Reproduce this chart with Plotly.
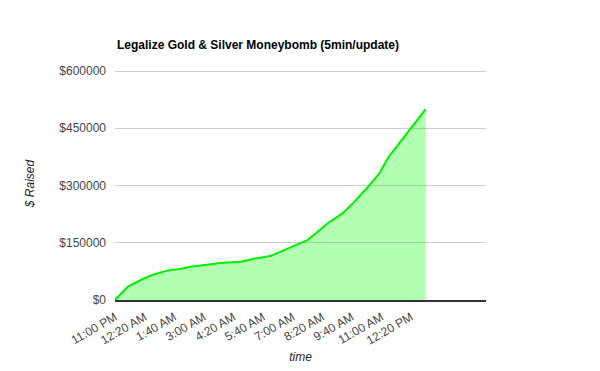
import plotly.graph_objects as go
from datetime import datetime, timedelta

# minutes after 11:00 PM start
minutes = [0, 35, 75, 100, 140, 175, 205, 250, 285, 340, 380, 420, 450, 480,
           520, 545, 575, 615, 645, 680, 715, 740, 780, 805, 840]
raised = [0, 35000, 55000, 65500, 77000, 81000, 87000, 92000, 97000, 100500,
          109000, 115000, 128000, 140000, 157000, 176000, 201000, 227000,
          255000, 292000, 332000, 375000, 426000, 458000, 500000]

tick_labels = ["11:00 PM", "12:20 AM", "1:40 AM", "3:00 AM", "4:20 AM", "5:40 AM",
               "7:00 AM", "8:20 AM", "9:40 AM", "11:00 AM", "12:20 PM"]
tick_minutes = [0, 80, 160, 240, 320, 400, 480, 560, 640, 720, 800]
y_ticks = [0, 150000, 300000, 450000, 600000]
y_labels = ["$0", "$150000", "$300000", "$450000", "$600000"]

start = datetime(2011, 3, 13, 23, 0)
x = [start + timedelta(minutes=m) for m in minutes]
tickvals = [start + timedelta(minutes=m) for m in tick_minutes]

fig = go.Figure()
fig.add_trace(go.Scatter(
    x=x, y=raised, mode="lines",
    line=dict(color="#00ee00", width=2),
    fill="tozeroy", fillcolor="rgba(0,255,0,0.3)",
    hoverinfo="x+y",
))

W, H = 592, 363
fig.update_layout(
    width=W, height=H,
    margin=dict(l=107, r=114, t=59, b=71),
    paper_bgcolor="white", plot_bgcolor="white",
    font=dict(family="Liberation Sans, Arial", size=11, color="#222"),
    showlegend=False,
    title=dict(text="<b>Legalize Gold &amp; Silver Moneybomb (5min/update)</b>",
               x=109 / W, xanchor="left", y=1 - 37 / H, yanchor="middle",
               font=dict(size=12, color="black")),
    xaxis=dict(
        range=[start, start + timedelta(minutes=1003)],
        tickvals=tickvals, ticktext=tick_labels, tickangle=-30,
        showgrid=False, zeroline=False, automargin=False,
        showline=True, linecolor="#333", linewidth=1.5,
        ticks="", tickfont=dict(size=12, color="#444"), ticklabelstandoff=4,
        title=dict(text="<i>time</i>", font=dict(size=12, color="#222"), standoff=6),
    ),
    yaxis=dict(
        range=[0, 610480], tickvals=y_ticks, ticktext=y_labels,
        showgrid=True, gridcolor="#cccccc", gridwidth=1,
        zeroline=False, showline=False, ticks="", automargin=False,
        tickfont=dict(size=12, color="#444"), ticklabelstandoff=8,
        title=dict(text="<i>$ Raised</i>", font=dict(size=12, color="#222"), standoff=22),
    ),
)

fig.write_html("out.html")
